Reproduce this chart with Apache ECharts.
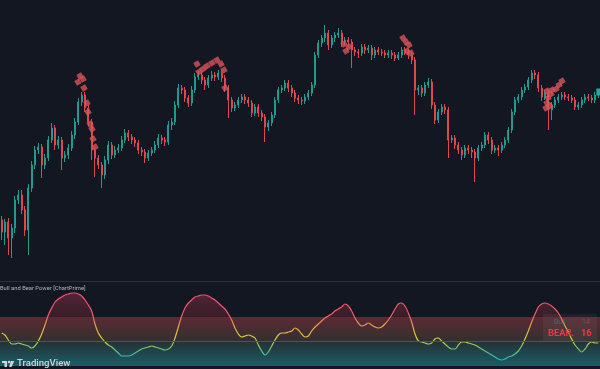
<!DOCTYPE html>
<html><head><meta charset="utf-8">
<script src="https://cdn.jsdelivr.net/npm/echarts@6/dist/echarts.min.js"></script>
<style>html,body{margin:0;padding:0;background:#131722;overflow:hidden}#c{width:600px;height:369px;}</style>
</head><body><div id="c"></div>
<script>
// ---- price candles (arbitrary price units) ----
const openP = [60,48,58,42,52,80,85,70,50,92,115,130,133,115,122,140,152,135,140,122,125,132,145,158,178,185,172,158,130,122,115,105,120,135,125,130,132,140,147,143,140,137,130,128,122,127,130,135,142,140,138,155,158,175,192,190,182,177,190,203,205,200,195,202,205,203,207,202,192,180,172,175,180,183,180,177,167,173,167,163,153,157,165,180,190,192,197,192,187,182,180,179,183,187,195,225,237,242,247,235,242,245,247,238,240,238,230,228,227,233,230,232,225,230,228,227,225,227,225,222,225,230,228,225,220,190,192,187,195,198,175,160,168,173,170,140,142,135,130,125,132,130,128,122,132,135,145,140,130,132,130,135,140,150,168,180,183,190,193,200,207,205,192,183,187,170,175,180,183,185,183,182,180,173,175,180,183,182,180,185];
const closeP = [48,58,42,52,80,85,70,50,92,115,130,133,115,122,140,152,135,140,122,125,132,145,158,178,185,172,158,130,122,115,105,120,135,125,130,132,140,147,143,140,137,130,128,122,127,130,135,142,140,138,155,158,175,192,190,182,177,190,203,205,200,195,202,205,203,207,202,192,180,172,175,180,183,180,177,167,173,167,163,153,157,165,180,190,192,197,192,187,182,180,179,183,187,195,225,237,242,247,235,242,245,247,238,240,238,230,228,227,233,230,232,225,230,228,227,225,227,225,222,225,230,228,225,220,190,192,187,195,198,175,160,168,173,170,140,142,135,130,125,132,130,128,122,132,135,145,140,130,132,130,135,140,150,168,180,183,190,193,200,207,205,192,183,187,170,175,180,183,185,183,182,180,173,175,180,183,182,180,185,188];
const highP = [64,61,62,56,84,90,90,74,96,119,134,137,136,126,144,157,155,144,143,129,136,149,162,182,188,188,175,161,133,125,118,124,139,138,134,136,144,151,150,146,143,140,133,131,130,133,139,146,145,143,159,162,179,196,195,193,185,194,207,209,208,203,205,209,208,210,210,205,195,183,178,183,186,186,183,180,176,176,170,166,160,168,183,193,195,200,200,195,190,185,183,186,190,198,228,240,245,255,250,245,248,252,250,243,243,241,233,231,236,236,235,235,233,233,231,230,230,230,228,228,233,233,231,228,223,195,195,198,202,201,178,171,176,176,173,145,145,138,133,135,135,133,131,135,138,148,148,143,135,135,138,143,153,171,183,186,193,196,203,210,210,208,195,190,190,178,183,186,188,188,186,185,183,178,183,186,186,185,188,191];
const lowP = [40,35,25,22,47,76,66,44,25,88,111,126,102,111,119,137,130,131,110,118,121,129,141,155,174,168,154,120,103,111,92,101,116,121,122,127,129,137,139,136,133,126,124,117,119,124,127,132,136,134,135,150,155,172,186,178,173,174,187,200,196,190,192,199,199,200,198,188,162,168,169,172,177,176,173,163,164,163,159,138,149,154,162,177,187,189,188,183,178,176,175,176,180,184,192,222,233,238,230,232,238,242,233,235,234,212,224,222,224,226,227,220,222,225,224,222,222,221,219,220,222,225,221,216,165,185,183,184,192,171,156,157,165,166,122,137,131,126,120,122,126,122,98,119,129,132,136,126,127,124,127,132,137,147,165,177,180,187,190,197,201,188,179,180,150,160,172,177,180,180,179,177,170,170,172,177,179,177,177,182];

// ---- bear signal markers (bar position, price) ----
const markerX = [22.9,23.5,24.4,24.7,25.6,25.9,26.5,27.1,27.4,28.0,58.6,59.2,60.4,61.6,63.1,64.6,65.8,66.7,67.0,102.7,104.2,103.3,120.4,121.3,122.2,121.6,122.8,168.1,167.2,166.3,165.1,163.6,164.8,163.9,163.6,164.5,163.3];
const markerY = [198,204,201,192,177,168,156,151,141,133,216,208,211,214,217,220,216,210,192,236,233,229,242,238,235,229,227,199,195,191,190,189,186,182,177,174,172];

// ---- Bull and Bear Power oscillator ----
const oscValues = [8,6,1,-3,-3,-2,-3,-4,-5,-7,-5,0,7,16,26,33,39,42,44,46,47,48,48,47,45,41,36,30,17,8,3,-1,-4,-6,-9,-12,-15,-15,-15,-14,-12,-10,-8,-7,-6,-5,-6,-7,-8,-9,-8,-5,3,14,25,33,38,41,44,45,46,46,45,43,41,38,35,32,27,21,13,7,4,5,6,5,3,-4,-10,-14,-11,-5,1,6,8,8,9,10,13,11,7,4,5,10,14,17,20,23,25,27,30,32,34,37,35,30,23,18,15,16,18,16,14,13,14,17,21,26,32,37,38,35,28,19,7,0,-1,-2,-3,-2,2,3,0,-3,-6,-8,-8,-4,-1,-1,-2,-3,-4,-6,-8,-10,-12,-14,-16,-18,-19,-18,-16,-15,-13,-10,-5,2,10,19,27,34,37,38,37,35,32,28,22,15,9,2,-4,-8,-11,-8,-3,-1,-2,-2];
const bandTop = 24, bandBottom = -25, midLevel = 0;

const indicatorTitle = 'Bull and Bear Power [ChartPrime]';
const tableLabels = ['Bull', 'BEAR.'];
const tableValues = [14, 16];

const categories = openP.map((_, i) => 'b' + i);
const candleData = openP.map((o, i) => [o, closeP[i], lowP[i], highP[i]]);
const fillData = oscValues.map(v => Math.max(v, bandTop));
const markerData = markerX.map((x, i) => [x, markerY[i]]);
const last = closeP.length - 1;

const chart = echarts.init(document.getElementById('c'), null, {renderer: 'canvas'});
const font = 'Roboto, "Noto Sans", sans-serif';

chart.setOption({
  backgroundColor: '#131722',
  animation: false,
  grid: [
    {left: 0, right: 0, top: 0, height: 280},
    {left: 0, right: 0, top: 282, height: 87}
  ],
  xAxis: [
    {type: 'category', data: categories, gridIndex: 0, show: false, boundaryGap: true},
    {type: 'value', gridIndex: 0, show: false, min: -0.5, max: last + 0.5},
    {type: 'category', data: categories, gridIndex: 1, show: false, boundaryGap: true}
  ],
  yAxis: [
    {type: 'value', gridIndex: 0, min: 0, max: 280, show: false},
    {type: 'value', gridIndex: 1, min: -28, max: 59, show: false}
  ],
  visualMap: {
    show: false, type: 'continuous', seriesIndex: 3, dimension: 1,
    min: -20, max: 48,
    inRange: {color: ['#22b8b5', '#6cbf78', '#d8cc40', '#e6a848', '#e8606a', '#ee5470', '#f0506e']}
  },
  graphic: [
    {type: 'line', shape: {x1: 0, y1: 281.5, x2: 600, y2: 281.5}, style: {stroke: '#2a2e39', lineWidth: 1}, z: 10},
    {type: 'text', x: 0, y: 289, style: {text: indicatorTitle, fill: '#b2b5be', font: '5.8px ' + font, textVerticalAlign: 'middle'}, z: 20},
    {type: 'rect', shape: {x: 543, y: 314, width: 54, height: 27}, style: {fill: 'rgba(150,150,165,0.09)'}, z: 15},
    {type: 'text', x: 554, y: 322, style: {text: tableLabels[0], fill: 'rgba(60,150,140,0.5)', font: '7px ' + font, textVerticalAlign: 'middle'}, z: 20},
    {type: 'text', x: 582, y: 322, style: {text: String(tableValues[0]), fill: 'rgba(150,120,125,0.45)', font: '7px ' + font, textVerticalAlign: 'middle'}, z: 20},
    {type: 'text', x: 548, y: 333.5, style: {text: tableLabels[1], fill: '#f23645', font: 'bold 9.3px ' + font, textVerticalAlign: 'middle'}, z: 20},
    {type: 'text', x: 581, y: 333.5, style: {text: String(tableValues[1]), fill: '#f23645', font: 'bold 9.3px ' + font, textVerticalAlign: 'middle'}, z: 20},
    // TradingView watermark
    {type: 'rect', shape: {x: 2, y: 361, width: 5, height: 2}, style: {fill: '#d1d4dc'}, z: 20},
    {type: 'rect', shape: {x: 4.5, y: 361, width: 2.5, height: 6}, style: {fill: '#d1d4dc'}, z: 20},
    {type: 'circle', shape: {cx: 9, cy: 362, r: 1.2}, style: {fill: '#d1d4dc'}, z: 20},
    {type: 'polygon', shape: {points: [[10.8, 361], [14.2, 361], [11.6, 367], [9.2, 367]]}, style: {fill: '#d1d4dc'}, z: 20},
    {type: 'text', x: 17, y: 364, style: {text: 'TradingView', fill: '#d1d4dc', font: '500 9.6px ' + font, textVerticalAlign: 'middle'}, z: 20}
  ],
  series: [
    {
      type: 'candlestick', xAxisIndex: 0, yAxisIndex: 0, data: candleData,
      barWidth: '45%',
      itemStyle: {color: '#22998c', color0: '#dd4850', borderColor: '#22998c', borderColor0: '#dd4850', borderWidth: 1},
      markPoint: {
        silent: true,
        data: [{coord: [categories[last], closeP[last]], symbol: 'rect', symbolSize: [8, 7], symbolOffset: [2, 0], itemStyle: {color: '#26a69a'}, label: {show: false}}]
      }
    },
    {
      type: 'scatter', xAxisIndex: 1, yAxisIndex: 0, data: markerData,
      symbol: 'rect', symbolSize: [5.5, 5.5], symbolRotate: 30,
      itemStyle: {color: '#d9545a'}, z: 5
    },
    {
      type: 'line', xAxisIndex: 2, yAxisIndex: 1, data: fillData, symbol: 'none', smooth: 0.3,
      lineStyle: {width: 0, opacity: 0},
      areaStyle: {origin: bandTop, color: new echarts.graphic.LinearGradient(0, 0, 0, 1, [
        {offset: 0, color: 'rgba(205,60,85,0.5)'}, {offset: 1, color: 'rgba(170,50,65,0.35)'}])},
      markArea: {
        silent: true,
        data: [
          [{yAxis: bandTop, itemStyle: {color: new echarts.graphic.LinearGradient(0, 0, 0, 1, [
            {offset: 0, color: '#5c2a33'}, {offset: 1, color: '#33302f'}])}}, {yAxis: midLevel}],
          [{yAxis: midLevel, itemStyle: {color: new echarts.graphic.LinearGradient(0, 0, 0, 1, [
            {offset: 0, color: '#262f34'}, {offset: 1, color: '#1a5e66'}])}}, {yAxis: bandBottom}]
        ]
      },
      markLine: {
        silent: true, symbol: 'none', label: {show: false},
        lineStyle: {color: '#50535c', width: 1, type: 'solid'},
        data: [{yAxis: midLevel}]
      }
    },
    {
      type: 'line', xAxisIndex: 2, yAxisIndex: 1, data: oscValues, symbol: 'none', smooth: 0.3,
      lineStyle: {width: 1.2}, z: 4
    }
  ]
});
</script></body></html>
